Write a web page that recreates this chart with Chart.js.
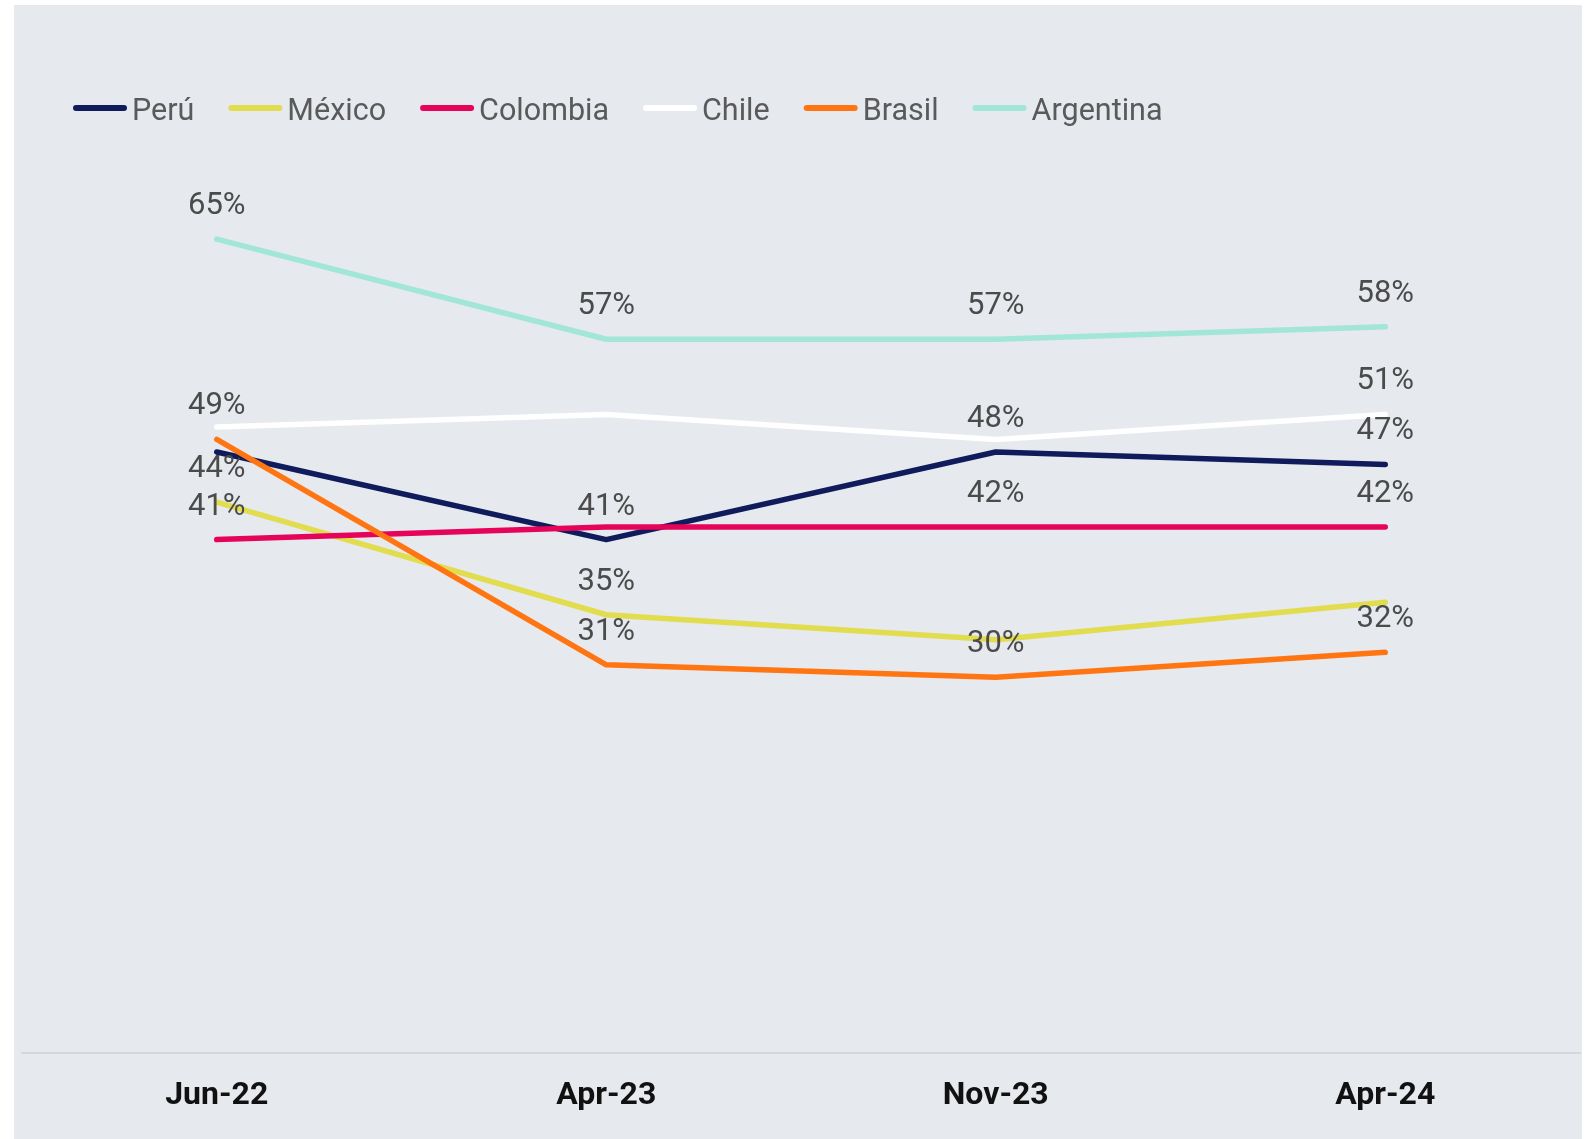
<!DOCTYPE html>
<html>
<head>
<meta charset="utf-8">
<script src="https://cdn.jsdelivr.net/npm/chart.js@4.4.1/dist/chart.umd.min.js"></script>
<style>
    body { margin: 0; background: #ffffff; }
    #panel { position: absolute; left: 14px; top: 5px; width: 1568px; height: 1134px; background: #e6e9ee; }
</style>
</head>
<body>
<div id="panel"><canvas id="trend-graph" width="1568" height="1134"></canvas></div>
<script>
// data
const fechas = ['Jun-22', 'Apr-23', 'Nov-23', 'Apr-24'];
const paises = ['Perú', 'México', 'Colombia', 'Chile', 'Brasil', 'Argentina'];
const peru = [48, 41, 48, 47];
const mexico = [44, 35, 33, 36];
const colombia = [41, 42, 42, 42];
const chile = [50, 51, 49, 51];
const brasil = [49, 31, 30, 32];
const argentina = [65, 57, 57, 58];
// which points carry a % label in the original
const etiquetasPeru = [false, true, true, true];
const etiquetasMexico = [true, true, false, false];
const etiquetasColombia = [true, false, true, true];
const etiquetasChile = [false, false, false, true];
const etiquetasBrasil = [true, true, true, true];
const etiquetasArgentina = [true, true, true, true];

const colores = ['#101b5c', '#e2dc4f', '#e6035a', '#ffffff', '#ff7512', '#a2e6d8'];
const valores = [peru, mexico, colombia, chile, brasil, argentina];
const etiquetas = [etiquetasPeru, etiquetasMexico, etiquetasColombia, etiquetasChile, etiquetasBrasil, etiquetasArgentina];

const legendPlugin = { // draws the line + text legend at the top left
    id: 'legendPlugin',
    afterDraw(chart) {
        const ctx = chart.ctx;
        ctx.save();
        ctx.font = '30.5px Roboto';
        ctx.textBaseline = 'alphabetic';
        ctx.textAlign = 'left';
        let x = 59;
        chart.data.datasets.forEach(ds => {
            ctx.beginPath();
            ctx.lineCap = 'round';
            ctx.lineWidth = 6;
            ctx.strokeStyle = ds.borderColor;
            ctx.moveTo(x + 3, 103);
            ctx.lineTo(x + 51, 103);
            ctx.stroke();
            ctx.fillStyle = '#5a5a5a';
            ctx.fillText(ds.label, x + 59, 114.5);
            x += 59 + ctx.measureText(ds.label).width + 34;
        });
        ctx.restore();
    }
};

const labelsPlugin = { // % labels above the points
    id: 'labelsPlugin',
    afterDatasetsDraw(chart) {
        const ctx = chart.ctx;
        ctx.save();
        ctx.font = '31px Roboto';
        ctx.fillStyle = '#4b4b4b';
        ctx.textAlign = 'center';
        ctx.textBaseline = 'alphabetic';
        chart.data.datasets.forEach((ds, i) => {
            const meta = chart.getDatasetMeta(i);
            meta.data.forEach((pt, j) => {
                if (etiquetas[i][j]) {
                    ctx.fillText(ds.data[j] + '%', pt.x, pt.y - 25);
                }
            });
        });
        ctx.restore();
    }
};

const ctx = document.getElementById('trend-graph').getContext('2d');
new Chart(ctx, {
    type: 'line',
    data: {
        labels: fechas,
        datasets: paises.map((p, i) => ({
            label: p,
            data: valores[i],
            borderColor: colores[i],
            backgroundColor: colores[i],
            borderWidth: 5.5,
            borderCapStyle: 'round',
            borderJoinStyle: 'round',
            pointRadius: 0,
            tension: 0,
            order: paises.length - i // later countries drawn on top
        }))
    },
    options: {
        responsive: false,
        animation: false,
        layout: {
            padding: { top: 171.5, left: 8, right: 2, bottom: 0 }
        },
        plugins: {
            legend: { display: false },
            tooltip: { enabled: false }
        },
        scales: {
            x: {
                offset: true,
                grid: { display: false, drawTicks: false },
                border: { display: true, color: '#d4d7db', width: 2 },
                ticks: {
                    padding: 27,
                    color: '#111111',
                    font: { family: 'Roboto', size: 32, weight: 'bold', lineHeight: 1.0 }
                }
            },
            y: {
                display: false,
                min: 0,
                max: 70
            }
        }
    },
    plugins: [legendPlugin, labelsPlugin]
});
</script>
</body>
</html>
